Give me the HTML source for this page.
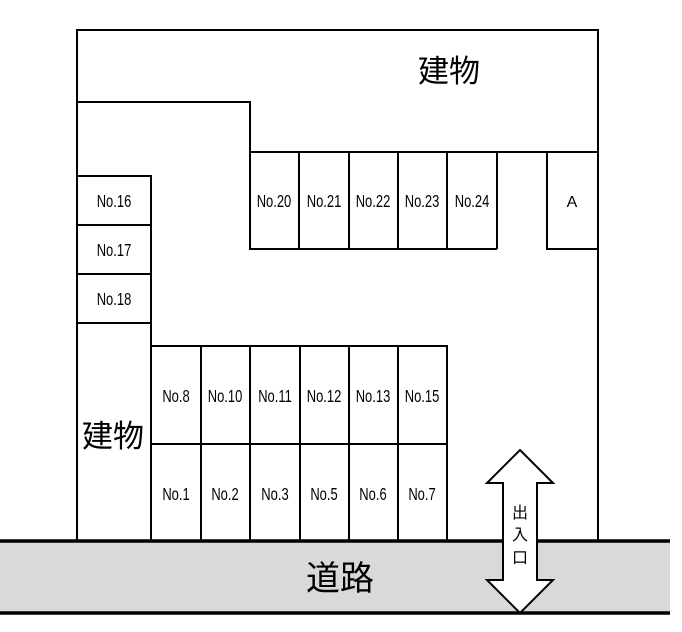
<!DOCTYPE html>
<html><head><meta charset="utf-8"><style>
html,body{margin:0;padding:0;background:#fff;}
svg{display:block;}
text{font-family:"Liberation Sans","Noto Sans CJK JP",sans-serif;fill:#000;}
.n{font-size:18px;}
</style></head><body>
<svg width="682" height="632" viewBox="0 0 682 632" xmlns="http://www.w3.org/2000/svg">
<rect x="0" y="541" width="670" height="72" fill="#d9d9d9"/>
<g fill="none" stroke="#000" stroke-width="2">
<path d="M77 541 V30 H598 V541"/>
<path d="M77 102 H250 V152 H598"/>
<path d="M250 152 V249 H497 M299 152 V249 M349 152 V249 M398 152 V249 M447 152 V249 M497 152 V249"/>
<path d="M547 152 V249 H598"/>
<path d="M77 176 H151 V541 M77 225 H151 M77 274 H151 M77 323 H151"/>
<path d="M151 346 H447 V541 M151 444 H447 M201 346 V541 M250 346 V541 M300 346 V541 M349 346 V541 M398 346 V541"/>
</g>
<line x1="0" y1="541" x2="670" y2="541" stroke="#000" stroke-width="3.5"/>
<line x1="0" y1="613" x2="670" y2="613" stroke="#000" stroke-width="3.5"/>
<path d="M520 450 L553 483 L537 483 L537 580 L553 580 L520 613 L487 580 L503 580 L503 483 L487 483 Z" fill="#fff" stroke="#000" stroke-width="2"/>
<g class="n" text-anchor="middle">
<text x="114" y="207" transform="translate(114 0) scale(0.72 1) translate(-114 0)">No.16</text>
<text x="114" y="256" transform="translate(114 0) scale(0.72 1) translate(-114 0)">No.17</text>
<text x="114" y="305" transform="translate(114 0) scale(0.72 1) translate(-114 0)">No.18</text>
<text x="274" y="207" transform="translate(274 0) scale(0.72 1) translate(-274 0)">No.20</text>
<text x="324" y="207" transform="translate(324 0) scale(0.72 1) translate(-324 0)">No.21</text>
<text x="373" y="207" transform="translate(373 0) scale(0.72 1) translate(-373 0)">No.22</text>
<text x="422" y="207" transform="translate(422 0) scale(0.72 1) translate(-422 0)">No.23</text>
<text x="472" y="207" transform="translate(472 0) scale(0.72 1) translate(-472 0)">No.24</text>
<text x="572" y="207" font-size="16">A</text>
<text x="176" y="402" transform="translate(176 0) scale(0.72 1) translate(-176 0)">No.8</text>
<text x="225" y="402" transform="translate(225 0) scale(0.72 1) translate(-225 0)">No.10</text>
<text x="275" y="402" transform="translate(275 0) scale(0.72 1) translate(-275 0)">No.11</text>
<text x="324" y="402" transform="translate(324 0) scale(0.72 1) translate(-324 0)">No.12</text>
<text x="373" y="402" transform="translate(373 0) scale(0.72 1) translate(-373 0)">No.13</text>
<text x="422" y="402" transform="translate(422 0) scale(0.72 1) translate(-422 0)">No.15</text>
<text x="176" y="500" transform="translate(176 0) scale(0.72 1) translate(-176 0)">No.1</text>
<text x="225" y="500" transform="translate(225 0) scale(0.72 1) translate(-225 0)">No.2</text>
<text x="275" y="500" transform="translate(275 0) scale(0.72 1) translate(-275 0)">No.3</text>
<text x="324" y="500" transform="translate(324 0) scale(0.72 1) translate(-324 0)">No.5</text>
<text x="373" y="500" transform="translate(373 0) scale(0.72 1) translate(-373 0)">No.6</text>
<text x="422" y="500" transform="translate(422 0) scale(0.72 1) translate(-422 0)">No.7</text>
</g>
<text x="449" y="82" font-size="31" text-anchor="middle">建物</text>
<text x="113" y="447" font-size="31" text-anchor="middle">建物</text>
<text x="340" y="590" font-size="34" text-anchor="middle">道路</text>
<g font-size="16" text-anchor="middle">
<text x="520" y="518">出</text>
<text x="520" y="540">入</text>
<text x="520" y="563">口</text>
</g>
</svg>
</body></html>
